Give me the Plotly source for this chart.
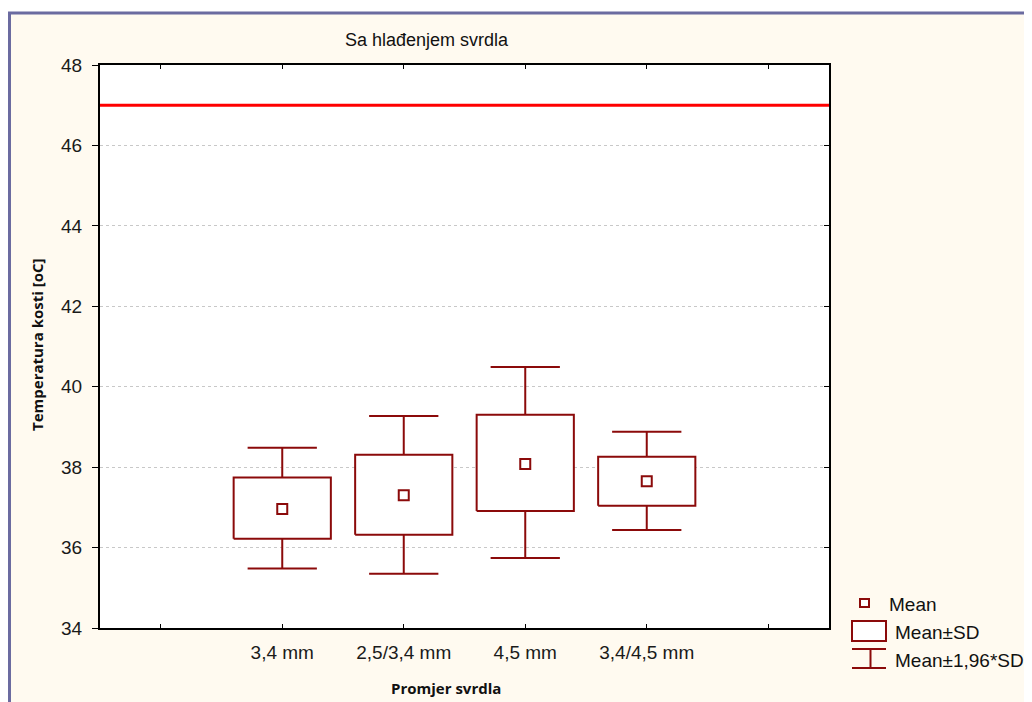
import plotly.graph_objects as go

# ---- data ----
categories = ["3,4 mm", "2,5/3,4 mm", "4,5 mm", "3,4/4,5 mm"]
mean_vals = [36.96, 37.30, 38.08, 37.65]
sd_low = [36.22, 36.32, 36.91, 37.04]
sd_high = [37.74, 38.31, 39.30, 38.26]
ci_low = [35.48, 35.35, 35.74, 36.44]
ci_high = [38.48, 39.27, 40.49, 38.88]
threshold = 47
y_ticks = [34, 36, 38, 40, 42, 44, 46, 48]

# ---- style ----
DARK_RED = "#8B0A0A"
BOX_HALF = 0.40
CAP_HALF = 0.285
PAGE_OFF = 8                       # browser body margin
FIG_W, FIG_H = 1032 - PAGE_OFF, 702 - PAGE_OFF
# plot area in screen pixels
L, R, T, B = 100, 829, 65, 628

def px(x):
    return (x - L) / (R - L)

def py(y):
    return 1 - (y - T) / (B - T)

xpos = list(range(1, len(categories) + 1))

# boxes
bx, by = [], []
for i, lo, hi in zip(xpos, sd_low, sd_high):
    bx += [i - BOX_HALF, i + BOX_HALF, i + BOX_HALF, i - BOX_HALF, i - BOX_HALF, None]
    by += [lo, lo, hi, hi, lo, None]

# whiskers
wx, wy = [], []
for i, lo, hi, clo, chi in zip(xpos, sd_low, sd_high, ci_low, ci_high):
    wx += [i, i, None, i - CAP_HALF, i + CAP_HALF, None,
           i, i, None, i - CAP_HALF, i + CAP_HALF, None]
    wy += [hi, chi, None, chi, chi, None,
           lo, clo, None, clo, clo, None]

fig = go.Figure()
fig.add_trace(go.Scatter(x=[-0.5, 5.5], y=[threshold, threshold], mode="lines",
                         line=dict(color="#FF0000", width=3), yaxis="y2",
                         hoverinfo="skip", showlegend=False))
fig.add_trace(go.Scatter(x=wx, y=wy, mode="lines",
                         line=dict(color=DARK_RED, width=2), showlegend=False))
fig.add_trace(go.Scatter(x=bx, y=by, mode="lines", fill="toself", fillcolor="white",
                         line=dict(color=DARK_RED, width=2), showlegend=False))
fig.add_trace(go.Scatter(x=xpos, y=mean_vals, mode="markers",
                         marker=dict(symbol="square", size=10, color="white",
                                     line=dict(color=DARK_RED, width=2)),
                         showlegend=False))

tick_font = dict(family="Liberation Sans, Arial, sans-serif", size=19, color="#1a1a1a")

fig.update_layout(
    width=FIG_W, height=FIG_H,
    margin=dict(l=L - PAGE_OFF, r=FIG_W - (R - PAGE_OFF), t=T - PAGE_OFF,
                b=FIG_H - (B - PAGE_OFF)),
    paper_bgcolor="#FFFAF0",
    plot_bgcolor="white",
    showlegend=False,
    xaxis=dict(range=[-0.5, 5.5], tickvals=[0, 1, 2, 3, 4, 5],
               ticktext=[""] + categories + [""],
               ticks="inside", ticklen=4, tickwidth=1, tickcolor="black",
               mirror="ticks", showline=True, linecolor="black", linewidth=2,
               showgrid=False, zeroline=False, tickfont=tick_font,
               ticklabelstandoff=6),
    yaxis=dict(range=[34, 48], tickvals=y_ticks,
               ticks="outside", ticklen=6, tickwidth=1, tickcolor="black",
               showline=True, linecolor="black", linewidth=2, mirror=True,
               showgrid=True, gridcolor="#C8C8C8", griddash="dot", gridwidth=1,
               zeroline=False, tickfont=tick_font, ticklabelstandoff=6),
    yaxis2=dict(range=[34, 48], tickvals=y_ticks, overlaying="y", side="right",
                ticks="inside", ticklen=5, tickwidth=1, tickcolor="black",
                showticklabels=False, showgrid=False, showline=False, zeroline=False),
)

ann_font = dict(family="Liberation Sans, Arial, sans-serif", size=19, color="#111111")
title_font = dict(family="Liberation Sans, Arial, sans-serif", size=18, color="#111111")
bold_font = dict(family="Open Sans, sans-serif", size=15, color="#111111")

annotations = [
    dict(text="Sa hlađenjem svrdla", x=px(427), y=py(40), xref="paper", yref="paper",
         showarrow=False, xanchor="center", yanchor="middle", font=title_font),
    dict(text="<b>Temperatura kosti [oC]</b>", x=px(37), y=py(345), xref="paper", yref="paper",
         showarrow=False, textangle=-90, xanchor="center", yanchor="middle", font=bold_font),
    dict(text="<b>Promjer svrdla</b>", x=px(446), y=py(688), xref="paper", yref="paper",
         showarrow=False, xanchor="center", yanchor="middle", font=bold_font),
    dict(text="Mean", x=px(887), y=py(604), xref="paper", yref="paper",
         showarrow=False, xanchor="left", yanchor="middle", font=ann_font),
    dict(text="Mean±SD", x=px(893), y=py(632), xref="paper", yref="paper",
         showarrow=False, xanchor="left", yanchor="middle", font=ann_font),
    dict(text="Mean±1,96*SD", x=px(893), y=py(660), xref="paper", yref="paper",
         showarrow=False, xanchor="left", yanchor="middle", font=ann_font),
]
fig.update_layout(annotations=annotations)

BORDER = "#6B6BA0"
shapes = [
    # white strip above the outer frame
    dict(type="rect", xref="paper", yref="paper", x0=px(-10), x1=px(1050), y0=py(12), y1=py(-10),
         fillcolor="white", line=dict(width=0), layer="above"),
    # outer frame
    dict(type="line", xref="paper", yref="paper", x0=px(9.5), x1=px(9.5), y0=py(12), y1=py(710),
         line=dict(color=BORDER, width=3), layer="above"),
    dict(type="line", xref="paper", yref="paper", x0=px(8), x1=px(1050), y0=py(13), y1=py(13),
         line=dict(color=BORDER, width=3), layer="above"),
    # legend symbols
    dict(type="rect", xref="paper", yref="paper", x0=px(860), x1=px(869), y0=py(607), y1=py(599),
         line=dict(color=DARK_RED, width=2), fillcolor="white"),
    dict(type="rect", xref="paper", yref="paper", x0=px(852), x1=px(886), y0=py(641), y1=py(621),
         line=dict(color=DARK_RED, width=2), fillcolor="white"),
    dict(type="line", xref="paper", yref="paper", x0=px(852), x1=px(886), y0=py(649), y1=py(649),
         line=dict(color=DARK_RED, width=2)),
    dict(type="line", xref="paper", yref="paper", x0=px(852), x1=px(886), y0=py(668), y1=py(668),
         line=dict(color=DARK_RED, width=2)),
    dict(type="line", xref="paper", yref="paper", x0=px(870.5), x1=px(870.5), y0=py(649), y1=py(668),
         line=dict(color=DARK_RED, width=2)),
]
fig.update_layout(shapes=shapes)

fig.write_html("out.html")
